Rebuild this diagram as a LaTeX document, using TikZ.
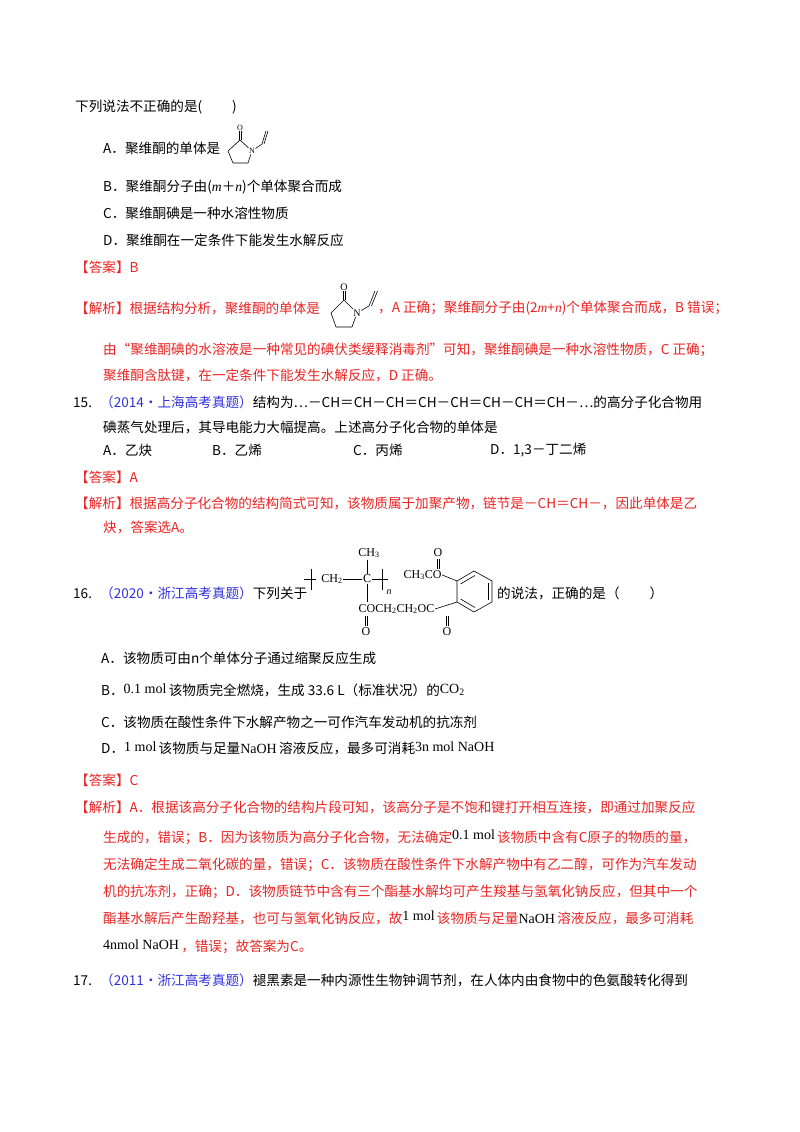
\documentclass[tikz,border=0pt]{standalone}
\usepackage{fontspec}
\setmainfont{Noto Sans CJK SC}
\newfontfamily\tms{Liberation Serif}
\definecolor{ansred}{RGB}{235,35,35}
\definecolor{srcblue}{RGB}{50,50,220}
\begin{document}
\begin{tikzpicture}[x=1pt,y=-1pt,
  txt/.style={anchor=west,inner sep=0pt,font=\fontsize{13.6}{16}\selectfont},
  rtxt/.style={txt,text=ansred},
  chem/.style={inner sep=0.5pt,font=\tms\fontsize{12}{13}\selectfont},
  bond/.style={line width=0.6pt}]
\useasboundingbox (0,0) rectangle (800,1132);
\fill[white] (0,0) rectangle (800,1132);
% ---- Q14 tail
\node[txt] (q0) at (75,107) {下列说法不正确的是(\hspace{2.2em})};
\node[txt] (qa) at (103,148) {A．聚维酮的单体是};
\node[txt] (qb) at (103,187) {B．聚维酮分子由({\tms\itshape m}＋{\tms\itshape n})个单体聚合而成};
\node[txt] (qc) at (103,213) {C．聚维酮碘是一种水溶性物质};
\node[txt] (qd) at (103,240) {D．聚维酮在一定条件下能发生水解反应};
% small monomer
\coordinate (a1) at (240,140); \coordinate (aN) at (252,151);
\coordinate (a3) at (248,163); \coordinate (a4) at (233,163); \coordinate (a5) at (228,151);
\node[chem,font=\tms\fontsize{8}{9}\selectfont] (aO) at (240,128) {O};
\node[chem,font=\tms\fontsize{8}{9}\selectfont,fill=white] (aNl) at (aN) {N};
\draw[bond] (aNl) -- (a3) -- (a4) -- (a5) -- (a1) -- (aNl);
\draw[bond] ([xshift=-1pt]a1) -- ([xshift=-1pt]aO.south); \draw[bond] ([xshift=1pt]a1) -- ([xshift=1pt]aO.south);
\coordinate (av1) at (262,144); \coordinate (av2) at (266,131);
\draw[bond] (aNl) -- (av1) -- (av2); \draw[bond] ([xshift=2pt]av1) -- ([xshift=2pt]av2);
\node[rtxt] (ans1) at (75,267) {【答案】B};
\node[rtxt] (jx1a) at (75,308) {【解析】根据结构分析，聚维酮的单体是};
% large monomer
\coordinate (b1) at (344,300); \coordinate (bN) at (357,313);
\coordinate (b3) at (352,327); \coordinate (b4) at (336,327); \coordinate (b5) at (331,313);
\node[chem,font=\tms\fontsize{10}{11}\selectfont] (bO) at (344,287) {O};
\node[chem,font=\tms\fontsize{10}{11}\selectfont,fill=white] (bNl) at (bN) {N};
\draw[bond] (bNl) -- (b3) -- (b4) -- (b5) -- (b1) -- (bNl);
\draw[bond] ([xshift=-1.2pt]b1) -- ([xshift=-1.2pt]bO.south); \draw[bond] ([xshift=1.2pt]b1) -- ([xshift=1.2pt]bO.south);
\coordinate (bv1) at (369,306); \coordinate (bv2) at (375,291);
\draw[bond] (bNl) -- (bv1) -- (bv2); \draw[bond] ([xshift=2.5pt]bv1) -- ([xshift=2.5pt]bv2);
\node[rtxt] (jx1b) at (378,308) {，A 正确；聚维酮分子由(2{\tms\itshape m}+{\tms\itshape n})个单体聚合而成，B 错误；};
\node[rtxt] (jx1c) at (103,350) {由“聚维酮碘的水溶液是一种常见的碘伏类缓释消毒剂”可知，聚维酮碘是一种水溶性物质，C 正确；};
\node[rtxt] (jx1d) at (103,375) {聚维酮含肽键，在一定条件下能发生水解反应，D 正确。};
% ---- Q15
\node[txt] (q15) at (73,402) {15.\hspace{0.6em}{\color{srcblue}（2014·上海高考真题）}结构为…－CH＝CH－CH＝CH－CH＝CH－CH＝CH－…的高分子化合物用};
\node[txt] (q15b) at (103,427) {碘蒸气处理后，其导电能力大幅提高。上述高分子化合物的单体是};
\node[txt] (o15a) at (103,450) {A．乙炔};
\node[txt] (o15b) at (212,450) {B．乙烯};
\node[txt] (o15c) at (353,450) {C．丙烯};
\node[txt] (o15d) at (490,450) {D．1,3－丁二烯};
\node[rtxt] (ans2) at (75,477) {【答案】A};
\node[rtxt] (jx2a) at (75,503) {【解析】根据高分子化合物的结构简式可知，该物质属于加聚产物，链节是－CH＝CH－，因此单体是乙};
\node[rtxt] (jx2b) at (103,527) {炔，答案选A。};
% ---- Q16
\node[txt] (q16a) at (73,593) {16.\hspace{0.6em}{\color{srcblue}（2020·浙江高考真题）}下列关于};
% polymer structure
\draw[bond] (304,579) -- (316,579);
\draw[bond] (311,569) -- (311,590);
\node[chem] (pch2) at (332,579) {CH\textsubscript{2}};
\node[chem] (pc) at (367,579) {C};
\node[chem] (pch3) at (369,553) {CH\textsubscript{3}};
\draw[bond] (pch2) -- (pc);
\draw[bond] (pc) -- (367,560);
\draw[bond] (pc.east) -- (388,579);
\draw[bond] (382,569) -- (382,590);
\node[chem,font=\tms\itshape\fontsize{10}{11}\selectfont] (pn) at (389,592) {n};
\node[chem,anchor=west] (prow) at (358,609) {COCH\textsubscript{2}CH\textsubscript{2}OC};
\draw[bond] (pc) -- (367,602);
\node[chem] (pO1) at (366,632) {O};
\draw[bond] (364.8,616) -- (364.8,626); \draw[bond] (367.2,616) -- (367.2,626);
\node[chem] (pO2) at (447,632) {O};
\draw[bond] (445.8,616) -- (445.8,626); \draw[bond] (448.2,616) -- (448.2,626);
\node[chem,anchor=west] (pac) at (403,575) {CH\textsubscript{3}CO};
\node[chem] (pO3) at (438,553) {O};
\draw[bond] (436.8,559) -- (436.8,569); \draw[bond] (439.2,559) -- (439.2,569);
\coordinate (r1) at (474,571); \coordinate (r2) at (492,581); \coordinate (r3) at (492,602);
\coordinate (r4) at (474,612); \coordinate (r5) at (457,602); \coordinate (r6) at (457,581);
\draw[bond] (r1) -- (r2) -- (r3) -- (r4) -- (r5) -- (r6) -- cycle;
\draw[bond] (488.5,583) -- (488.5,600);
\draw[bond] (475,575.5) -- (460.5,584);
\draw[bond] (475,607.5) -- (460.5,599);
\draw[bond] (pac.east) -- (r6);
\draw[bond] (prow.east) -- (r5);
\node[txt] (q16b) at (497,593) {的说法，正确的是（\hspace{2.2em}）};
\node[txt] (o16a) at (101,658) {A．该物质可由n个单体分子通过缩聚反应生成};
\node[txt] (o16b) at (101,690) {B．\raisebox{2pt}{\tms\fontsize{14}{16}\selectfont 0.1 mol}\,该物质完全燃烧，生成 33.6 L（标准状况）的\raisebox{2pt}{\tms\fontsize{14}{16}\selectfont CO\textsubscript{2}}};
\node[txt] (o16c) at (101,722) {C．该物质在酸性条件下水解产物之一可作汽车发动机的抗冻剂};
\node[txt] (o16d) at (101,748) {D．\raisebox{2pt}{\tms\fontsize{14}{16}\selectfont 1 mol}\,该物质与足量{\tms\fontsize{14}{16}\selectfont NaOH}\,溶液反应，最多可消耗\raisebox{2pt}{\tms\fontsize{14}{16}\selectfont 3n mol NaOH}};
\node[rtxt] (ans3) at (75,780) {【答案】C};
\node[rtxt] (jx3a) at (75,807) {【解析】A．根据该高分子化合物的结构片段可知，该高分子是不饱和键打开相互连接，即通过加聚反应};
\node[rtxt] (jx3b) at (103,837) {生成的，错误；B．因为该物质为高分子化合物，无法确定\raisebox{3pt}{\color{black}\tms\fontsize{14}{16}\selectfont 0.1 mol}\,该物质中含有C原子的物质的量，};
\node[rtxt] (jx3c) at (103,865) {无法确定生成二氧化碳的量，错误；C．该物质在酸性条件下水解产物中有乙二醇，可作为汽车发动};
\node[rtxt] (jx3d) at (103,892) {机的抗冻剂，正确；D．该物质链节中含有三个酯基水解均可产生羧基与氢氧化钠反应，但其中一个};
\node[rtxt] (jx3e) at (103,918) {酯基水解后产生酚羟基，也可与氢氧化钠反应，故\raisebox{3pt}{\color{black}\tms\fontsize{14}{16}\selectfont 1 mol}\,该物质与足量{\color{black}\tms\fontsize{14}{16}\selectfont NaOH}\,溶液反应，最多可消耗};
\node[rtxt] (jx3f) at (103,947) {\raisebox{2pt}{\color{black}\tms\fontsize{14}{16}\selectfont 4nmol NaOH}\,，错误；故答案为C。};
% ---- Q17
\node[txt] (q17) at (73,980) {17.\hspace{0.6em}{\color{srcblue}（2011·浙江高考真题）}褪黑素是一种内源性生物钟调节剂，在人体内由食物中的色氨酸转化得到};
\end{tikzpicture}
\end{document}
